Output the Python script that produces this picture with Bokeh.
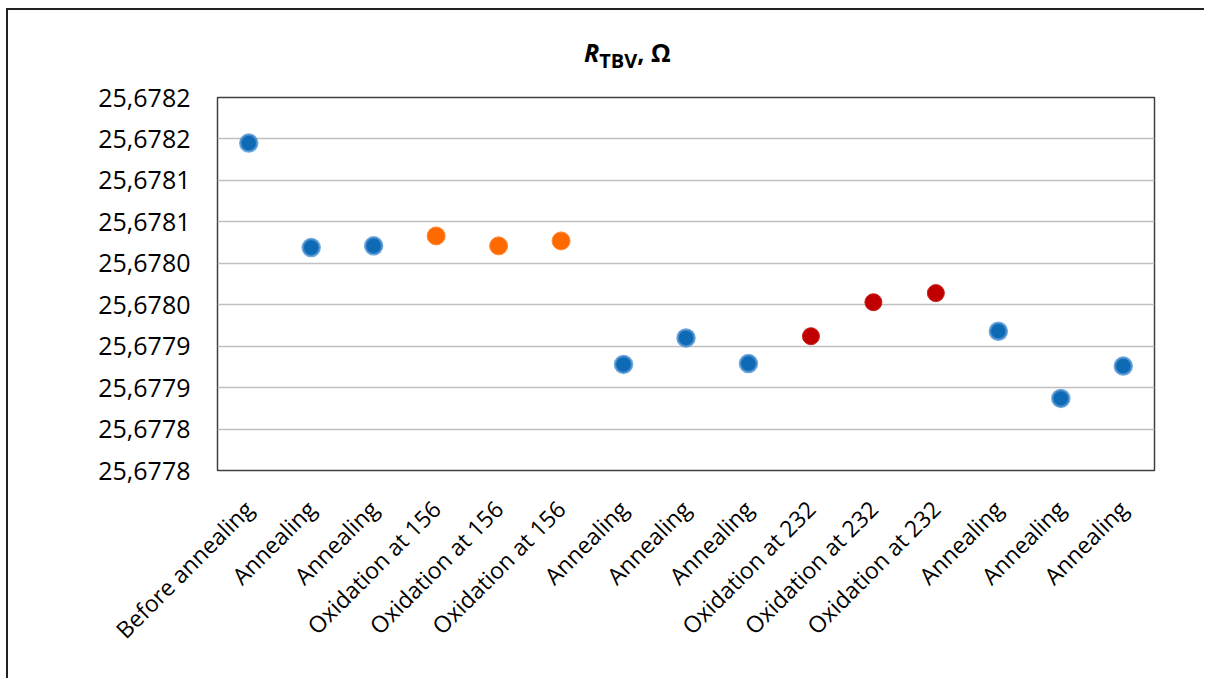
import math
from bokeh.plotting import figure
from bokeh.layouts import column
from bokeh.models import Range1d, FixedTicker, CustomJSTickFormatter, Div
from bokeh.embed import file_html
from bokeh.resources import INLINE

stages = ["Before annealing", "Annealing", "Annealing", "Oxidation at 156", "Oxidation at 156",
          "Oxidation at 156", "Annealing", "Annealing", "Annealing", "Oxidation at 232",
          "Oxidation at 232", "Oxidation at 232", "Annealing", "Annealing", "Annealing"]
r_tbv = [25.678145, 25.678019, 25.678021, 25.678033, 25.678021,
         25.678027, 25.677878, 25.677910, 25.677879, 25.677912,
         25.677953, 25.677964, 25.677918, 25.677837, 25.677876]
y_ticks = [25.67775, 25.6778, 25.67785, 25.6779, 25.67795, 25.678,
           25.67805, 25.6781, 25.67815, 25.6782]
y_min, y_max = 25.67775, 25.6782

FONT = "Open Sans"
W = 1196

title = Div(
    text=("<div style=\"font-family:'Open Sans'; font-weight:bold; font-size:25px; "
          "color:#000; padding-left:576px; padding-top:25px; white-space:nowrap;\">"
          "<i>R</i><sub style=\"font-size:20px;\">TBV</sub>, Ω</div>"),
    width=W, height=67, margin=0)

p = figure(width=W, height=601, output_backend="svg", toolbar_location=None,
           x_range=Range1d(-0.5, len(stages) - 0.5), y_range=Range1d(y_min, y_max),
           min_border_left=209, min_border_right=50, min_border_top=20, min_border_bottom=208,
           margin=0)
p.background_fill_color = "white"
p.border_fill_color = "white"
p.outline_line_color = "#404040"
p.outline_line_width = 1.5

def color_for(s):
    if s == "Oxidation at 156":
        return "orange"
    if s == "Oxidation at 232":
        return "red"
    return "blue"

idx = list(range(len(stages)))
groups = {"blue": ([], []), "orange": ([], []), "red": ([], [])}
for i, s in enumerate(stages):
    g = color_for(s)
    groups[g][0].append(i)
    groups[g][1].append(r_tbv[i])

bx, by = groups["blue"]
p.scatter(bx, by, size=17, fill_color="#0E6AB4", line_color="#4F92D2", line_width=2.5, line_alpha=0.8)
ox, oy = groups["orange"]
p.scatter(ox, oy, size=18, fill_color="#FF6A00", line_color="#FF8A3A", line_width=1)
rx, ry = groups["red"]
p.scatter(rx, ry, size=17, fill_color="#C00000", line_color="#C82020", line_width=1)

p.xaxis.ticker = FixedTicker(ticks=idx)
p.xaxis.major_label_overrides = {i: s for i, s in enumerate(stages)}
p.xaxis.major_label_orientation = math.pi / 4
p.xaxis.major_label_text_font = FONT
p.xaxis.major_label_text_font_size = "23px"
p.xaxis.major_label_text_color = "#000000"
p.xaxis.major_label_standoff = 34

p.yaxis.ticker = FixedTicker(ticks=y_ticks)
p.yaxis.formatter = CustomJSTickFormatter(
    code="return (Math.round(tick*10000 + 1e-6)/10000).toFixed(4).replace('.', ',');")
p.yaxis.major_label_text_font = FONT
p.yaxis.major_label_text_font_size = "25px"
p.yaxis.major_label_text_color = "#000000"
p.yaxis.major_label_standoff = 27

for ax in (p.xaxis[0], p.yaxis[0]):
    ax.axis_line_color = None
    ax.major_tick_out = 0
    ax.major_tick_in = 0
    ax.minor_tick_out = 0
    ax.minor_tick_in = 0

p.xgrid.grid_line_color = None
p.ygrid.grid_line_color = "#C0C0C0"
p.ygrid.grid_line_width = 1.5

layout = column(title, p, spacing=0, margin=(8, 0, 0, 6),
                styles={"border-left": "2px solid #222222", "border-top": "2px solid #222222",
                        "background-color": "white"})

open("out.html", "w").write(file_html(layout, INLINE))
